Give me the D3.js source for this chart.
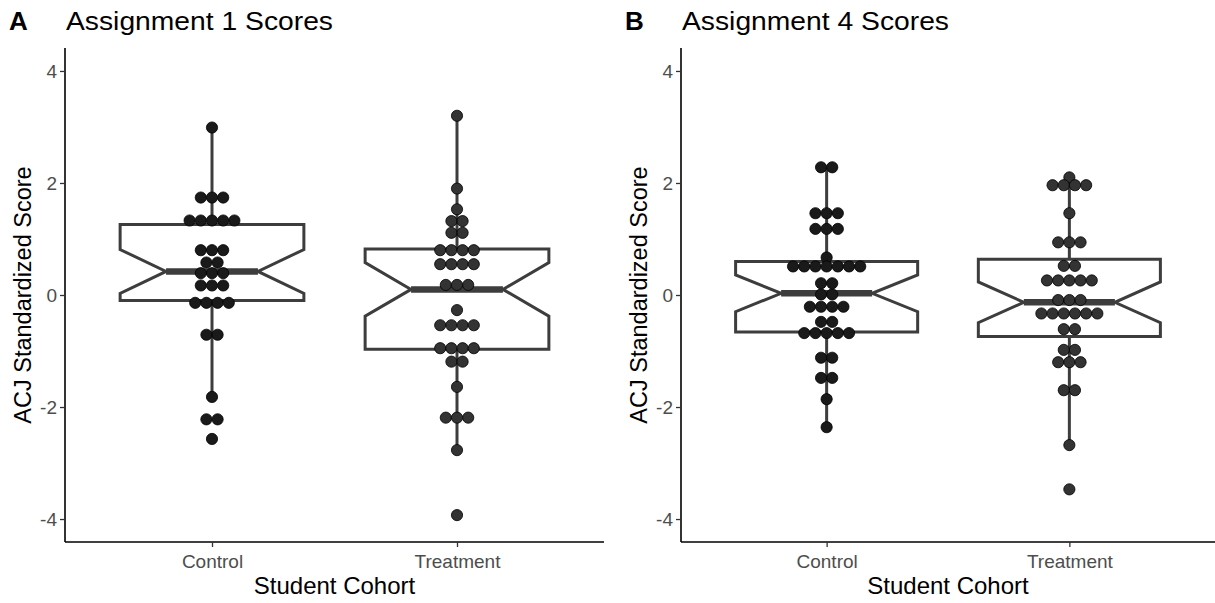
<!DOCTYPE html>
<html>
<head>
<meta charset="utf-8">
<script src="https://cdn.jsdelivr.net/npm/d3@7"></script>
<style>
  body { margin: 0; background: #fff; }
  svg { display: block; font-family: "Liberation Sans", Arial, sans-serif; }
</style>
</head>
<body>
<div id="chart"></div>
<script>
const cohorts = ['Control', 'Treatment'];
const yTicks = [-4, -2, 0, 2, 4];

// dot values (binned, one entry per student)
const a1Control = [2.99, 1.74, 1.74, 1.74, 1.33, 1.33, 1.33, 1.33, 1.33,
  0.80, 0.80, 0.80, 0.58, 0.58, 0.39, 0.39, 0.39, 0.17, 0.17, 0.17,
  -0.14, -0.14, -0.14, -0.14, -0.71, -0.71, -1.82, -2.22, -2.22, -2.57];
const a1Treatment = [3.20, 1.90, 1.53, 1.32, 1.32, 1.11, 1.11, 0.80, 0.80, 0.80, 0.80,
  0.55, 0.55, 0.55, 0.55, 0.18, 0.18, 0.18, -0.27, -0.54, -0.54, -0.54, -0.54,
  -0.95, -0.95, -0.95, -0.95, -1.19, -1.19, -1.64, -2.19, -2.19, -2.19, -2.77, -3.93];
const a4Control = [2.28, 2.28, 1.46, 1.46, 1.46, 1.18, 1.18, 1.18, 0.67,
  0.51, 0.51, 0.51, 0.51, 0.51, 0.51, 0.51, 0.21, 0.21, 0.01, 0.01,
  -0.21, -0.21, -0.21, -0.21, -0.48, -0.48, -0.68, -0.68, -0.68, -0.68, -0.68,
  -1.12, -1.12, -1.48, -1.48, -1.86, -2.36];
const a4Treatment = [2.10, 1.96, 1.96, 1.96, 1.96, 1.46, 0.94, 0.94, 0.94, 0.52, 0.52,
  0.26, 0.26, 0.26, 0.26, 0.26, -0.09, -0.09, -0.09,
  -0.33, -0.33, -0.33, -0.33, -0.33, -0.33, -0.61, -0.61, -0.98, -0.98,
  -1.20, -1.20, -1.20, -1.70, -1.70, -2.68, -3.47];

// box stats: [lower whisker, q1, median, q3, upper whisker]
const a1ControlBox = [-1.82, -0.10, 0.42, 1.26, 2.99];
const a1TreatmentBox = [-2.77, -0.97, 0.10, 0.82, 3.20];
const a4ControlBox = [-2.36, -0.66, 0.03, 0.60, 2.28];
const a4TreatmentBox = [-2.68, -0.74, -0.13, 0.64, 2.10];

const width = 1215, height = 603;
const svg = d3.select('#chart').append('svg')
  .attr('width', width)
  .attr('height', height);

function drawPanel(opts) {
  const { left, right, top, bottom, tag, title, groups } = opts;

  const x = d3.scalePoint()
    .domain(cohorts)
    .range([left, right])
    .padding(0.6);

  const y = d3.scaleLinear()
    .domain([-4.41, 4.41])
    .range([bottom, top]);

  const g = svg.append('g');
  const hw = x.step() * 0.375;
  const dotR = 5.6;

  groups.forEach(grp => {
    const cx = x(grp.name);
    const [lo, q1, med, q3, hi] = grp.box;
    const notch = 1.58 * (q3 - q1) / Math.sqrt(grp.values.length);
    const nUp = med + notch, nLo = med - notch;

    // whiskers
    g.append('line')
      .attr('x1', cx).attr('x2', cx)
      .attr('y1', y(q3)).attr('y2', y(hi))
      .attr('stroke', '#3d3d3d').attr('stroke-width', 3);
    g.append('line')
      .attr('x1', cx).attr('x2', cx)
      .attr('y1', y(q1)).attr('y2', y(lo))
      .attr('stroke', '#3d3d3d').attr('stroke-width', 3);

    // notched box
    const pts = [
      [cx - hw, y(q3)], [cx - hw, y(nUp)], [cx - hw / 2, y(med)], [cx - hw, y(nLo)],
      [cx - hw, y(q1)], [cx + hw, y(q1)], [cx + hw, y(nLo)], [cx + hw / 2, y(med)],
      [cx + hw, y(nUp)], [cx + hw, y(q3)]
    ];
    g.append('path')
      .attr('d', d3.line()(pts) + 'Z')
      .attr('fill', '#fff')
      .attr('stroke', '#3d3d3d')
      .attr('stroke-width', 3)
      .attr('stroke-linejoin', 'miter');

    g.append('line')
      .attr('x1', cx - hw / 2).attr('x2', cx + hw / 2)
      .attr('y1', y(med)).attr('y2', y(med))
      .attr('stroke', '#3d3d3d').attr('stroke-width', 6.5);

    // centred dot stacks
    const bins = d3.groups(grp.values, d => d);
    const dots = [];
    bins.forEach(([v, arr]) => {
      const n = arr.length;
      arr.forEach((_, i) => dots.push({ v, off: i - (n - 1) / 2 }));
    });
    g.append('g')
      .selectAll('circle')
      .data(dots)
      .join('circle')
      .attr('cx', d => cx + d.off * dotR * 2)
      .attr('cy', d => y(d.v))
      .attr('r', dotR)
      .attr('fill', grp.fill)
      .attr('stroke', '#000')
      .attr('stroke-width', 0.8);
  });

  // axes
  const yAxis = g.append('g')
    .attr('transform', `translate(${left},0)`)
    .call(d3.axisLeft(y).tickValues(yTicks).tickFormat(d => String(d)).tickSize(5).tickPadding(3));
  const xAxis = g.append('g')
    .attr('transform', `translate(0,${bottom})`)
    .call(d3.axisBottom(x).tickSize(5).tickPadding(8));

  [yAxis, xAxis].forEach(ax => {
    ax.select('.domain').attr('stroke', '#000').attr('stroke-width', 1.6);
    ax.selectAll('.tick line').attr('stroke', '#333').attr('stroke-width', 1.3);
    ax.selectAll('.tick text')
      .attr('fill', '#4d4d4d')
      .style('font-size', '19px')
      .style('font-family', '"Liberation Sans", Arial, sans-serif');
  });
  // extend domains flush to the corner like ggplot
  yAxis.select('.domain').attr('d', `M0,${top}V${bottom}`);
  xAxis.select('.domain').attr('d', `M${left},0H${right}`);

  // titles
  g.append('text')
    .attr('x', opts.tagX).attr('y', 30)
    .attr('font-size', 26).attr('font-weight', 'bold')
    .text(tag);
  g.append('text')
    .attr('x', left + 1).attr('y', 30)
    .attr('font-size', 25)
    .attr('textLength', 267)
    .attr('lengthAdjust', 'spacingAndGlyphs')
    .text(title);
  g.append('text')
    .attr('transform', `translate(${left - 34},${(top + bottom) / 2}) rotate(-90)`)
    .attr('text-anchor', 'middle')
    .attr('font-size', 23.5)
    .text('ACJ Standardized Score');
  g.append('text')
    .attr('x', (left + right) / 2).attr('y', 594)
    .attr('text-anchor', 'middle')
    .attr('font-size', 24)
    .text('Student Cohort');
}

drawPanel({
  left: 65, right: 604, top: 48, bottom: 542, tagX: 9,
  tag: 'A', title: 'Assignment 1 Scores',
  groups: [
    { name: 'Control', values: a1Control, box: a1ControlBox, fill: '#1a1a1a' },
    { name: 'Treatment', values: a1Treatment, box: a1TreatmentBox, fill: '#333333' }
  ]
});

drawPanel({
  left: 681, right: 1215, top: 48, bottom: 542, tagX: 625,
  tag: 'B', title: 'Assignment 4 Scores',
  groups: [
    { name: 'Control', values: a4Control, box: a4ControlBox, fill: '#1a1a1a' },
    { name: 'Treatment', values: a4Treatment, box: a4TreatmentBox, fill: '#333333' }
  ]
});
</script>
</body>
</html>
